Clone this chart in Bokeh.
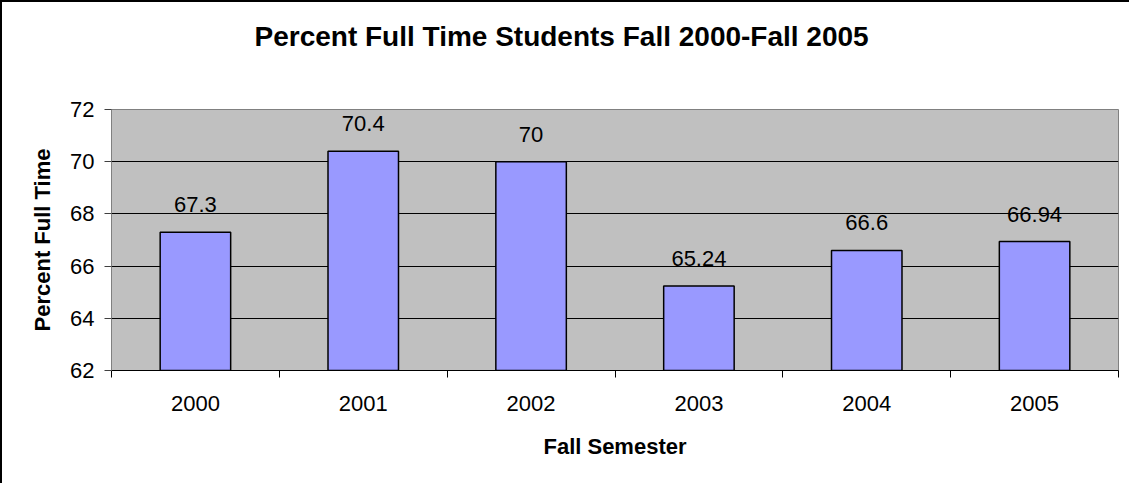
from bokeh.plotting import figure
from bokeh.models import FixedTicker, Range1d, Title, ColumnDataSource
from bokeh.embed import file_html
from bokeh.resources import INLINE

title_text = "Percent Full Time Students Fall 2000-Fall 2005"
years = ["2000", "2001", "2002", "2003", "2004", "2005"]
values = [67.3, 70.4, 70.0, 65.24, 66.6, 66.94]
y_ticks = [62, 64, 66, 68, 70, 72]

FONT = "Liberation Sans"

xs = [i + 0.5 for i in range(len(years))]
src = ColumnDataSource(dict(x=xs, top=values, label=[f"{v:g}" for v in values]))

p = figure(width=1129, height=483, output_backend="svg", toolbar_location=None,
           x_range=Range1d(0, len(years)), y_range=Range1d(62, 72),
           min_border_left=109, min_border_right=13, min_border_top=107, min_border_bottom=115)
p.styles = {"border-left": "2px solid black", "border-top": "2px solid black"}

p.title = None
# blank spacer between the title and the plot area
p.add_layout(Title(text=" ", text_font=FONT, text_font_size="10px", standoff=28), "above")
p.add_layout(Title(text=title_text, align="left",
                   text_font=FONT, text_font_size="28px", text_font_style="bold",
                   text_color="black", offset=143, standoff=33), "above")

p.background_fill_color = "#C0C0C0"
p.border_fill_color = "white"
p.outline_line_color = "#808080"
p.outline_line_width = 1

p.vbar(x="x", top="top", bottom=62, width=0.42, source=src,
       fill_color="#9999FF", line_color="black", line_width=1.5)
p.text(x="x", y="top", text="label", source=src, text_align="center",
       text_baseline="bottom", y_offset=-20, text_font={"value": FONT},
       text_font_size="22px", text_color="black")

# x axis
p.xaxis.ticker = FixedTicker(ticks=xs, minor_ticks=list(range(len(years) + 1)))
p.xaxis.major_label_overrides = {x: y for x, y in zip(xs, years)}
p.xaxis.major_tick_out = 0
p.xaxis.major_tick_in = 0
p.xaxis.minor_tick_out = 7
p.xaxis.minor_tick_in = 0
p.xaxis.minor_tick_line_color = "black"
p.xaxis.axis_line_color = "black"
p.xaxis.major_label_text_font = FONT
p.xaxis.major_label_text_font_size = "22px"
p.xaxis.major_label_text_color = "black"
p.xaxis.major_label_standoff = 18
p.xaxis.axis_label = "Fall Semester"
p.xaxis.axis_label_text_font = FONT
p.xaxis.axis_label_text_font_size = "22px"
p.xaxis.axis_label_text_font_style = "bold"
p.xaxis.axis_label_text_color = "black"
p.xaxis.axis_label_standoff = 20

# y axis
p.yaxis.ticker = FixedTicker(ticks=y_ticks)
p.yaxis.minor_tick_line_color = None
p.yaxis.major_tick_out = 7
p.yaxis.major_tick_in = 0
p.yaxis.major_tick_line_color = "#404040"
p.yaxis.axis_line_color = "#808080"
p.yaxis.major_label_text_font = FONT
p.yaxis.major_label_text_font_size = "22px"
p.yaxis.major_label_text_color = "black"
p.yaxis.major_label_standoff = 10
p.yaxis.axis_label = "Percent Full Time"
p.yaxis.axis_label_text_font = FONT
p.yaxis.axis_label_text_font_size = "22px"
p.yaxis.axis_label_text_font_style = "bold"
p.yaxis.axis_label_text_color = "black"
p.yaxis.axis_label_standoff = 12

p.xgrid.grid_line_color = None
p.ygrid.ticker = FixedTicker(ticks=y_ticks[1:-1])
p.ygrid.grid_line_color = "black"
p.ygrid.grid_line_width = 1

open("out.html", "w").write(file_html(p, INLINE))
